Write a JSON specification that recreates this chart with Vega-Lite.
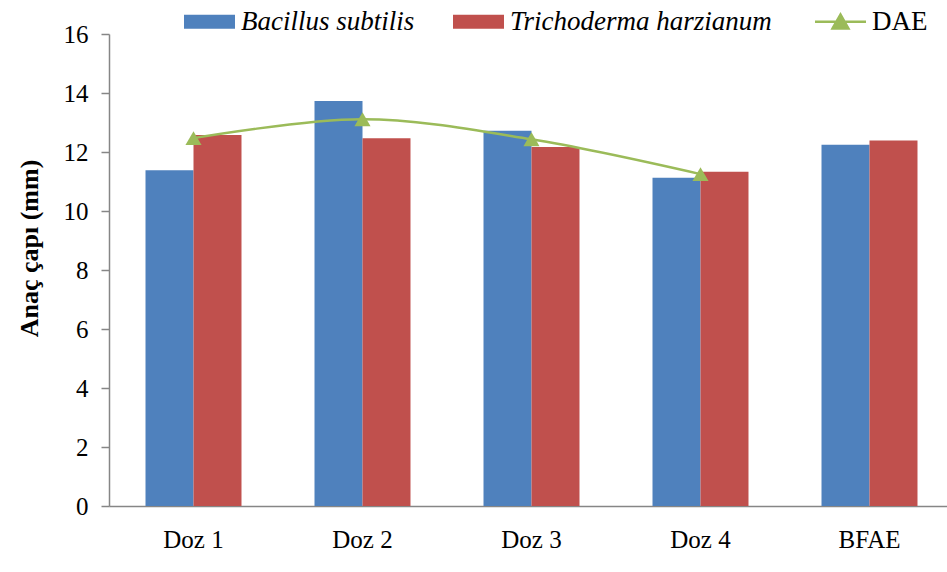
{
  "$schema": "https://vega.github.io/schema/vega-lite/v6.json",
  "autosize": {"type": "none"},
  "width": 845,
  "height": 472,
  "padding": {"left": 109, "top": 34, "right": 0, "bottom": 66},
  "background": "white",
  "config": {
    "view": {"stroke": null},
    "font": "Liberation Serif, Times New Roman, serif",
    "axis": {"labelFont": "Liberation Serif, Times New Roman, serif", "titleFont": "Liberation Serif, Times New Roman, serif"},
    "legend": {"labelFont": "Liberation Serif, Times New Roman, serif"}
  },
  "datasets": {
    "bars": [
      {"doz": "Doz 1", "series": "Bacillus subtilis", "value": 11.38},
      {"doz": "Doz 1", "series": "Trichoderma harzianum", "value": 12.58},
      {"doz": "Doz 2", "series": "Bacillus subtilis", "value": 13.73},
      {"doz": "Doz 2", "series": "Trichoderma harzianum", "value": 12.47},
      {"doz": "Doz 3", "series": "Bacillus subtilis", "value": 12.72},
      {"doz": "Doz 3", "series": "Trichoderma harzianum", "value": 12.17},
      {"doz": "Doz 4", "series": "Bacillus subtilis", "value": 11.13},
      {"doz": "Doz 4", "series": "Trichoderma harzianum", "value": 11.33},
      {"doz": "BFAE", "series": "Bacillus subtilis", "value": 12.25},
      {"doz": "BFAE", "series": "Trichoderma harzianum", "value": 12.39}
    ],
    "dae": [
      {"doz": "Doz 1", "series": "DAE", "value": 12.47},
      {"doz": "Doz 2", "series": "DAE", "value": 13.11},
      {"doz": "Doz 3", "series": "DAE", "value": 12.43},
      {"doz": "Doz 4", "series": "DAE", "value": 11.25}
    ]
  },
  "encoding": {
    "x": {
      "field": "doz",
      "type": "nominal",
      "sort": ["Doz 1", "Doz 2", "Doz 3", "Doz 4", "BFAE"],
      "scale": {"paddingInner": 0.432, "paddingOuter": 0.216},
      "axis": {
        "title": null,
        "labelAngle": 0,
        "labelFontSize": 25,
        "labelColor": "black",
        "labelPadding": 21,
        "ticks": false,
        "domainColor": "#868686",
        "domainWidth": 1.5
      }
    },
    "y": {
      "field": "value",
      "type": "quantitative",
      "scale": {"domain": [0, 16], "nice": false, "zero": true},
      "axis": {
        "title": "Anaç çapı (mm)",
        "titleFontSize": 26,
        "titleFontWeight": "bold",
        "titleColor": "black",
        "titleAngle": 270,
        "titleX": -72,
        "titleY": 214,
        "titleAlign": "center",
        "titleBaseline": "alphabetic",
        "values": [0, 2, 4, 6, 8, 10, 12, 14, 16],
        "format": "d",
        "grid": false,
        "labelFontSize": 25,
        "labelColor": "black",
        "labelPadding": 13,
        "tickSize": 8,
        "tickColor": "#868686",
        "tickWidth": 1.5,
        "domainColor": "#868686",
        "domainWidth": 1.5
      }
    },
    "color": {
      "field": "series",
      "type": "nominal",
      "scale": {
        "domain": ["Bacillus subtilis", "Trichoderma harzianum", "DAE"],
        "range": ["#4F81BD", "#C0504D", "#9BBB59"]
      },
      "legend": {
        "orient": "none",
        "legendX": 75,
        "legendY": -26,
        "direction": "horizontal",
        "title": null,
        "labelFontSize": 27,
        "labelColor": "black",
        "labelOffset": 6,
        "labelLimit": 400,
        "columnPadding": 38,
        "symbolSize": 2601,
        "encode": {
          "symbols": {
            "update": {
              "x": {"value": 25.5},
              "shape": {"signal": "datum.value === 'DAE' ? 'M-1,0H1M-0.31,0.26L0,-0.28L0.31,0.26Z' : 'M-1,-0.27H1V0.27H-1Z'"},
              "fill": {"scale": "color", "field": "value"},
              "stroke": {"scale": "color", "field": "value"},
              "strokeWidth": {"signal": "datum.value === 'DAE' ? 2.5 : 0"},
              "opacity": {"value": 1},
              "fillOpacity": {"value": 1}
            }
          },
          "labels": {
            "update": {
              "x": {"value": 57},
              "font": {"value": "Liberation Serif, Times New Roman, serif"},
              "fontSize": {"value": 27},
              "fontStyle": {"signal": "datum.value === 'DAE' ? 'normal' : 'italic'"}
            }
          }
        }
      }
    }
  },
  "layer": [
    {
      "data": {"name": "bars"},
      "mark": {"type": "bar", "opacity": 1},
      "encoding": {
        "xOffset": {
          "field": "series",
          "type": "nominal",
          "sort": ["Bacillus subtilis", "Trichoderma harzianum"],
          "scale": {"paddingInner": 0, "paddingOuter": 0}
        }
      }
    },
    {
      "data": {"name": "dae"},
      "mark": {
        "type": "line",
        "interpolate": "cardinal",
        "strokeWidth": 2.5,
        "point": {"shape": "triangle-up", "size": 260, "filled": true, "opacity": 1}
      },
      "encoding": {}
    }
  ]
}
